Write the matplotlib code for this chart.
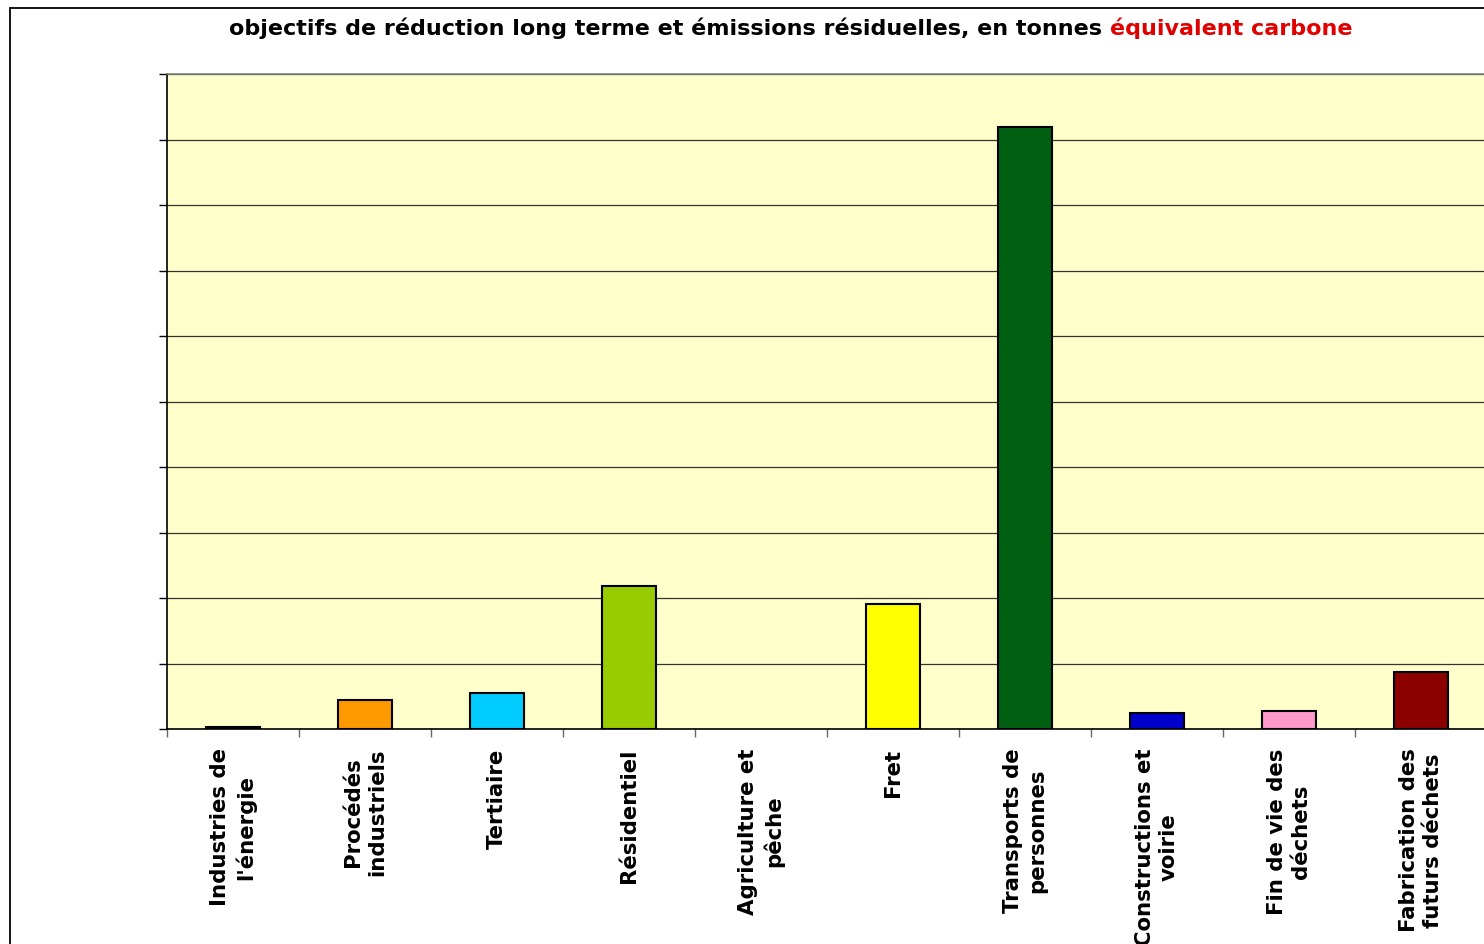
import matplotlib.pyplot as plt
import matplotlib.patches as patches
import numpy as np

# donnees (unites de la grille, l'axe n'a pas de graduations chiffrees)
categories = ["Industries de\nl'énergie", "Procédés\nindustriels", "Tertiaire",
              "Résidentiel", "Agriculture et\npêche", "Fret",
              "Transports de\npersonnes", "Constructions et\nvoirie",
              "Fin de vie des\ndéchets", "Fabrication des\nfuturs déchets"]
valeurs = [0.03, 0.45, 0.55, 2.18, 0.0, 1.91, 9.19, 0.24, 0.27, 0.87]
couleurs = ['#000000', '#FF9900', '#00CCFF', '#99CC00', '#FFFFFF', '#FFFF00',
            '#005F11', '#0000CC', '#FF99CC', '#8C0000']

plt.rcParams['font.family'] = 'DejaVu Sans'

fig = plt.figure(figsize=(14.84, 9.44), dpi=100)
W, H = 1484, 944

# cadre du graphique (coupe a droite et en bas)
fig.patches.append(patches.Rectangle((10 / W, -0.05), 1.2, 1 - 8 / H + 0.05,
                                     transform=fig.transFigure, fill=False,
                                     edgecolor='black', linewidth=1.3))

ax = fig.add_axes([167 / W, (H - 729) / H, 1320 / W, (729 - 74) / H])
ax.set_facecolor('#FFFFCC')

x = np.arange(len(categories))
bords = ['black' if v > 0 else 'none' for v in valeurs]
ax.bar(x, valeurs, width=0.41, color=couleurs, edgecolor=bords, linewidth=1.5, zorder=3)

ax.set_xlim(-0.5, len(categories) - 0.5)
ax.set_ylim(0, 10)

ax.set_yticks(np.arange(0, 11, 1))
ax.set_yticklabels([])
ax.tick_params(axis='y', direction='out', length=6, width=1, color='black')
ax.yaxis.grid(True, color='#333333', linewidth=0.9, zorder=1)
ax.set_axisbelow(True)

ax.set_xticks(x)
ax.set_xticklabels(categories, rotation=90, fontsize=15.3, fontweight='bold',
                   va='top', ha='center', multialignment='center', linespacing=1.25)
ax.tick_params(axis='x', which='major', length=0, pad=14)
ax.set_xticks(np.arange(-0.5, len(categories), 1), minor=True)
ax.tick_params(axis='x', which='minor', direction='out', length=6, width=1, color='#666666')

ax.spines['left'].set_color('black')
ax.spines['bottom'].set_color('black')
ax.spines['top'].set_color('#808080')
ax.spines['right'].set_visible(False)
for s in ax.spines.values():
    s.set_linewidth(1.2)

# titre en deux couleurs
t1 = fig.text(229 / W, 1 - 28 / H, "objectifs de réduction long terme et émissions résiduelles, en tonnes ",
              fontsize=16, fontweight='bold', color='black', va='center', ha='left')
fig.canvas.draw()
bb = t1.get_window_extent(renderer=fig.canvas.get_renderer())
fig.text(bb.x1 / W, 1 - 28 / H, "équivalent carbone", fontsize=16, fontweight='bold',
         color='#E00000', va='center', ha='left')

plt.savefig('out.png', dpi=100)
